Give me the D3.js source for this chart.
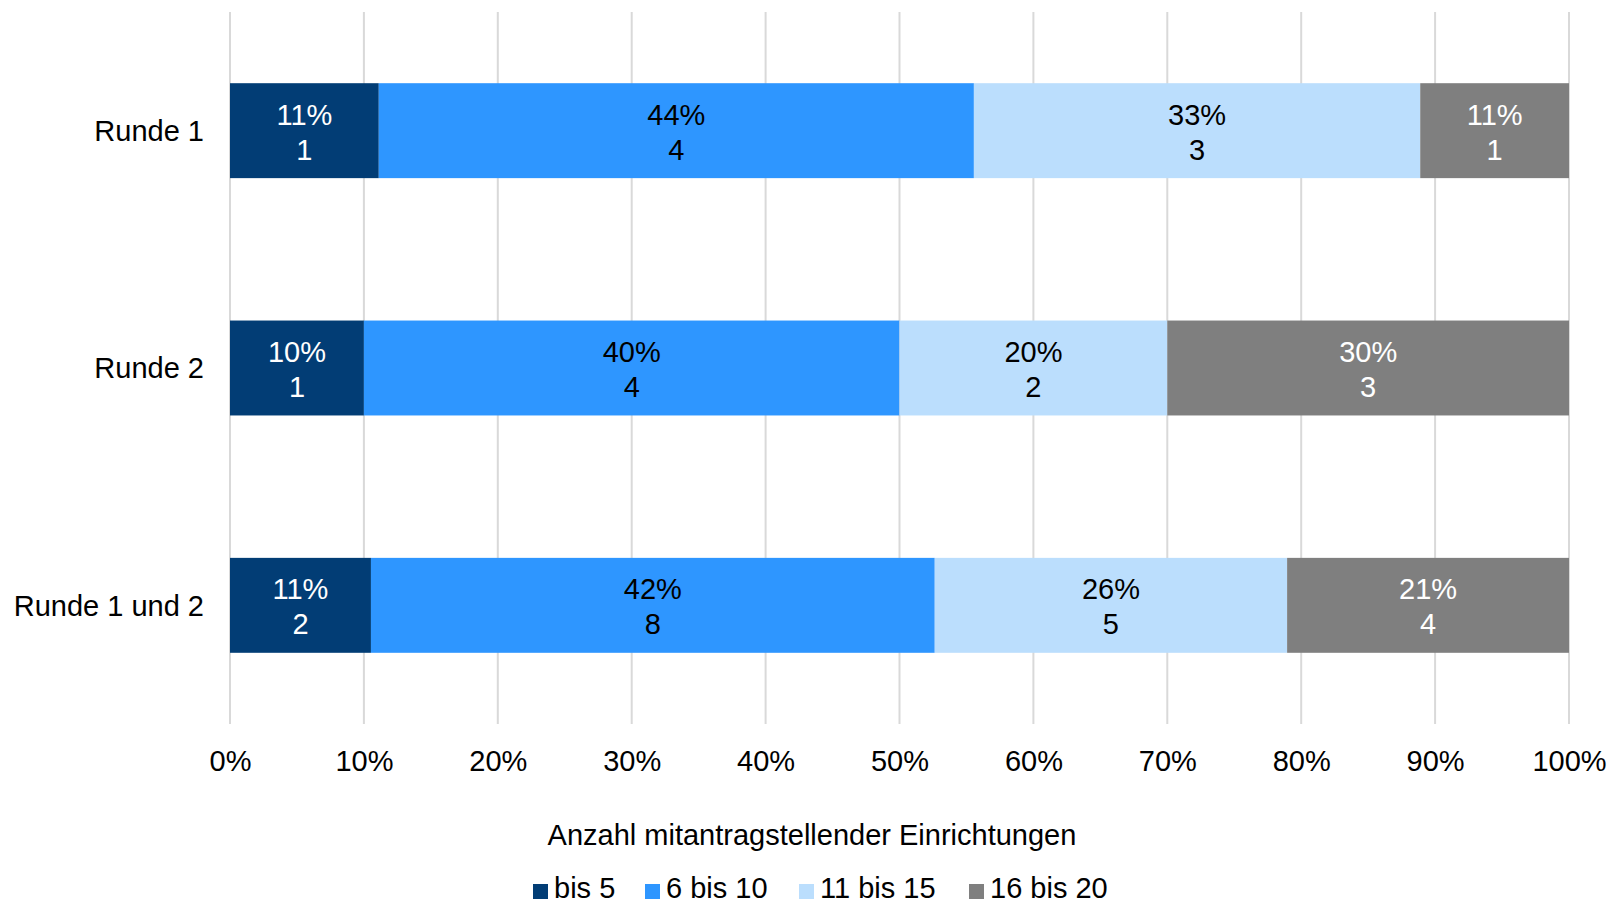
<!DOCTYPE html>
<html>
<head>
<meta charset="utf-8">
<script src="https://cdn.jsdelivr.net/npm/d3@7"></script>
<style>
  body { margin: 0; background: #fff; }
  text { font-family: "Liberation Sans", Arial, sans-serif; }
</style>
</head>
<body>
<script>
// rounds (categories) and number of co-applicant institutions per size class
const rounds = ["Runde 1", "Runde 2", "Runde 1 und 2"];
const groups = ["bis 5", "6 bis 10", "11 bis 15", "16 bis 20"];
const bis5 = [1, 1, 2];
const bis10 = [4, 4, 8];
const bis15 = [3, 2, 5];
const bis20 = [1, 3, 4];
const colors = ["#023d75", "#2e96ff", "#bbdefd", "#7f7f7f"];
const labelColors = ["#fff", "#000", "#000", "#fff"];
const xTicks = [0, 0.1, 0.2, 0.3, 0.4, 0.5, 0.6, 0.7, 0.8, 0.9, 1];

const W = 1609, H = 905;
const fontSize = 29;

const rows = rounds.map((r, i) => ({
  round: r, "bis 5": bis5[i], "6 bis 10": bis10[i], "11 bis 15": bis15[i], "16 bis 20": bis20[i]
}));

const svg = d3.select("body").append("svg")
  .attr("width", W)
  .attr("height", H);

const x = d3.scaleLinear().domain([0, 1]).range([230, 1569]);
const y = d3.scaleBand().domain(rounds).range([12, 724])
  .paddingInner(0.6).paddingOuter(0.3);

// gridlines
svg.append("g").selectAll("line")
  .data(xTicks)
  .enter().append("line")
  .attr("x1", d => x(d)).attr("x2", d => x(d))
  .attr("y1", 12).attr("y2", 724)
  .attr("stroke", "#d9d9d9")
  .attr("stroke-width", 2);

const stack = d3.stack().keys(groups).offset(d3.stackOffsetExpand);
const series = stack(rows);

const layer = svg.selectAll(".layer")
  .data(series)
  .enter().append("g")
  .attr("class", "layer");

layer.selectAll("rect")
  .data(d => d)
  .enter().append("rect")
  .attr("x", d => x(d[0]))
  .attr("width", d => x(d[1]) - x(d[0]))
  .attr("y", d => y(d.data.round))
  .attr("height", y.bandwidth())
  .attr("fill", function() { return colors[d3.select(this.parentNode).datum().index]; });

// segment labels: percent + count
layer.each(function(s) {
  const g = d3.select(this);
  const lbl = g.selectAll("text")
    .data(s)
    .enter().append("text")
    .attr("x", d => (x(d[0]) + x(d[1])) / 2)
    .attr("text-anchor", "middle")
    .attr("fill", labelColors[s.index])
    .style("font-size", fontSize + "px");
  lbl.append("tspan")
    .attr("x", d => (x(d[0]) + x(d[1])) / 2)
    .attr("y", d => y(d.data.round) + y.bandwidth() / 2 - 6)
    .text(d => Math.round((d[1] - d[0]) * 100) + "%");
  lbl.append("tspan")
    .attr("x", d => (x(d[0]) + x(d[1])) / 2)
    .attr("y", d => y(d.data.round) + y.bandwidth() / 2 + 29)
    .text(d => d.data[s.key]);
});

// x axis labels
const xAxis = d3.axisBottom(x)
  .tickValues(xTicks)
  .tickFormat(d3.format(".0%"))
  .tickSize(0);

const xg = svg.append("g")
  .attr("transform", "translate(0,724)")
  .call(xAxis);
xg.select(".domain").remove();
xg.selectAll("text")
  .attr("y", 47)
  .attr("dy", 0)
  .attr("fill", "#000")
  .style("font-size", fontSize + "px")
  .style("font-family", "'Liberation Sans', Arial, sans-serif");

// y axis labels
const yAxis = d3.axisLeft(y).tickSize(0).tickPadding(0);
const yg = svg.append("g")
  .attr("transform", "translate(204,0)")
  .call(yAxis);
yg.select(".domain").remove();
yg.selectAll("text")
  .attr("dy", "0.36em")
  .attr("fill", "#000")
  .style("font-size", fontSize + "px")
  .style("font-family", "'Liberation Sans', Arial, sans-serif");

// axis title
svg.append("text")
  .attr("x", 812)
  .attr("y", 845)
  .attr("text-anchor", "middle")
  .style("font-size", fontSize + "px")
  .text("Anzahl mitantragstellender Einrichtungen");

// legend
const legendX = [533, 645, 799, 969];
const legend = svg.selectAll(".legend")
  .data(groups)
  .enter().append("g")
  .attr("class", "legend")
  .attr("transform", (d, i) => "translate(" + legendX[i] + ",0)");

legend.append("rect")
  .attr("x", 0)
  .attr("y", 884)
  .attr("width", 15)
  .attr("height", 15)
  .attr("fill", (d, i) => colors[i]);

legend.append("text")
  .attr("x", 21)
  .attr("y", 898)
  .style("font-size", fontSize + "px")
  .text(d => d);
</script>
</body>
</html>
